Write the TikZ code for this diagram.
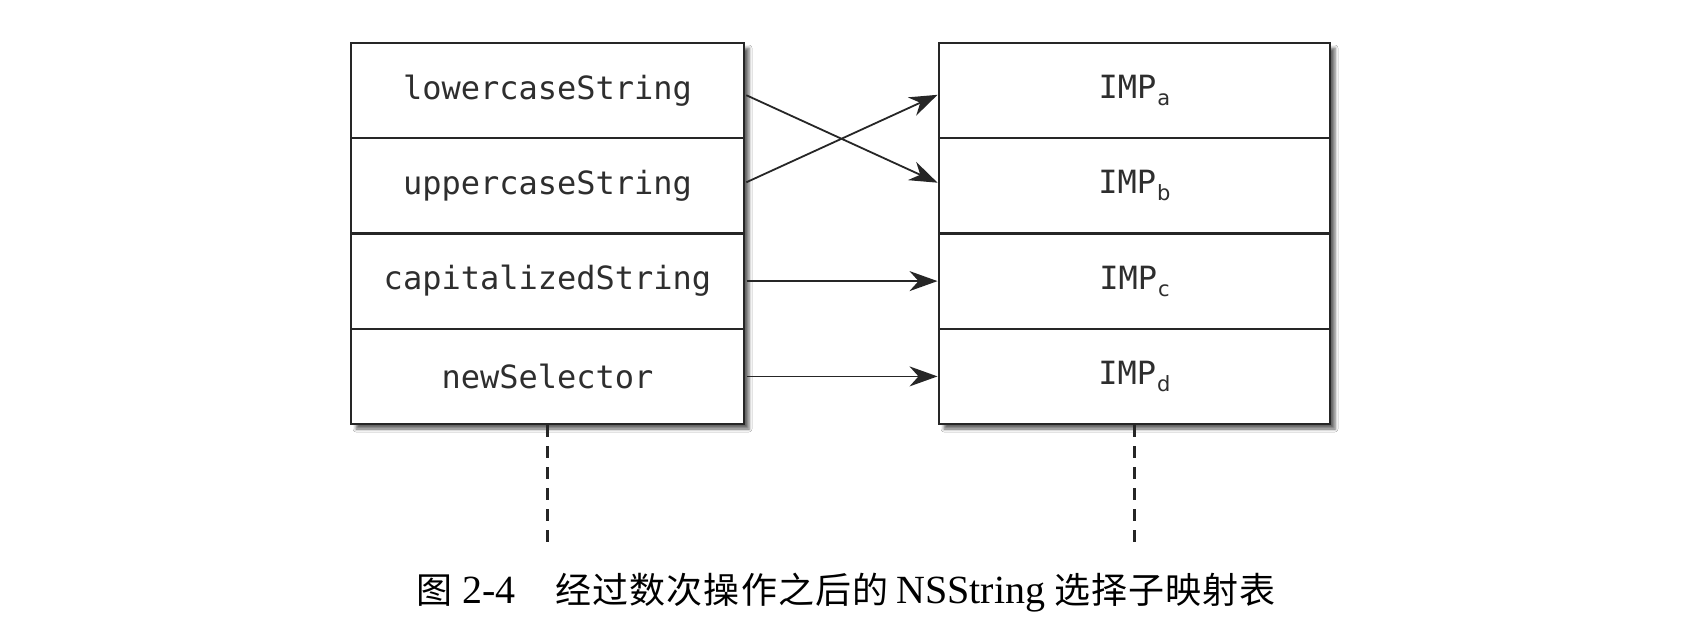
\documentclass[tikz,border=0pt]{standalone}
\usepackage{fontspec}
\setmainfont{Liberation Serif}
\newfontfamily\cjk[LetterSpace=3]{Noto Sans CJK SC}
\newfontfamily\monof{DejaVu Sans Mono}
\newfontfamily\subf{DejaVu Sans}
\usetikzlibrary{arrows.meta,shadows,shadows.blur}
\newcommand{\impx}[1]{IMP\kern1pt\raisebox{-7pt}{\subf\fontsize{21}{21}\selectfont #1}}
\newcommand{\cj}[1]{{\cjk\fontsize{36}{36}\selectfont #1}}
\begin{document}
\begin{tikzpicture}[x=1pt,y=-1pt,
  frame/.style={draw=black!85, line width=2.2pt, fill=white, minimum height=381pt, inner sep=0pt,
    blur shadow={shadow xshift=5pt, shadow yshift=-5pt, shadow blur radius=3pt, shadow opacity=60}},
  cell/.style={draw=black!85, line width=2pt, minimum height=95.25pt, inner sep=0pt,
    font=\monof\fontsize{32}{32}\selectfont, text=black!82},
  link/.style={line width=1.8pt, draw=black!85, -{Stealth[length=28pt,width=20pt,inset=9pt]}, shorten >=0.5pt, shorten <=1.5pt},
  tail/.style={line width=2.4pt, draw=black!85, dash pattern=on 12pt off 9pt}]
\fill[white] (0,0) rectangle (1684,638);
\useasboundingbox (0,0) rectangle (1684,638);
% frames
\node[frame, minimum width=393pt] (lt) at (547.5,233.5) {};
\node[frame, minimum width=391pt] (rt) at (1134.5,233.5) {};
% left cells
\node[cell, minimum width=393pt] (l1) at (547.5,90.6) {lowercaseString};
\node[cell, minimum width=393pt] (l2) at (547.5,185.9) {uppercaseString};
\node[cell, minimum width=393pt] (l3) at (547.5,281.1) {capitalizedString};
\node[cell, minimum width=393pt] (l4) at (547.5,376.4) {newSelector};
% right cells
\node[cell, minimum width=391pt] (r1) at (1134.5,90.6) {\impx{a}};
\node[cell, minimum width=391pt] (r2) at (1134.5,185.9) {\impx{b}};
\node[cell, minimum width=391pt] (r3) at (1134.5,281.1) {\impx{c}};
\node[cell, minimum width=391pt] (r4) at (1134.5,376.4) {\impx{d}};
% connectors
\draw[link] ([yshift=-4pt]l1.east) -- ([yshift=3pt]r2.west);
\draw[link] ([yshift=3pt]l2.east) -- ([yshift=-4pt]r1.west);
\draw[link] (l3.east) -- (r3.west);
\draw[link] (l4.east) -- (r4.west);
% dashed tails
\coordinate (le) at (547.5,543);
\coordinate (re) at (1134.5,543);
\draw[tail] (lt.south) -- (le);
\draw[tail] (rt.south) -- (re);
% caption
\node[font=\fontsize{40}{40}\selectfont, inner sep=0pt] (cap) at (846,593)
  {\cj{图}\hspace{10pt}2-4\hspace{40pt}\cj{经过数次操作之后的}\hspace{8pt}NSString\hspace{9pt}\cj{选择子映射表}};
\end{tikzpicture}
\end{document}
